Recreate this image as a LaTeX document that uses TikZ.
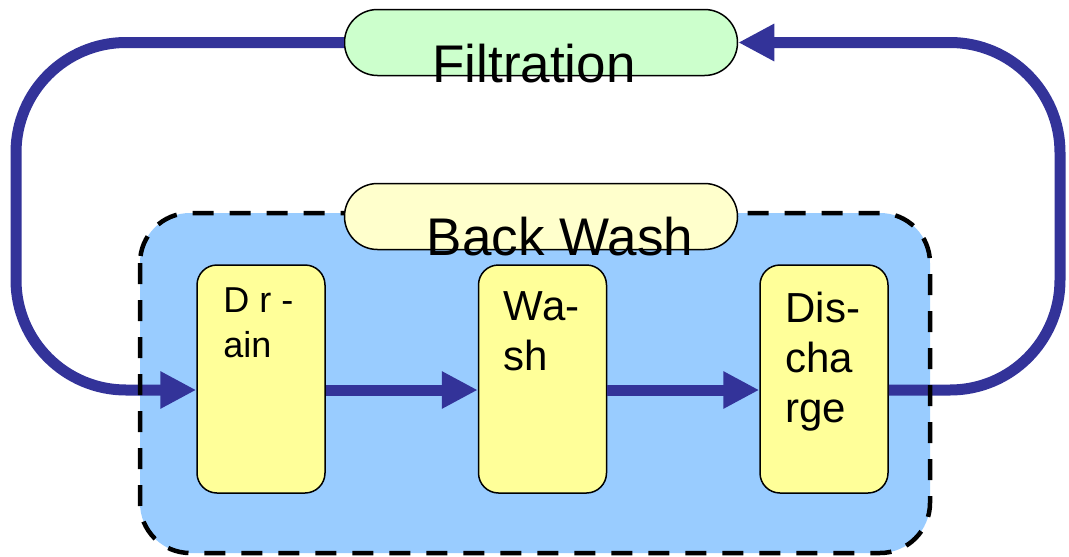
\documentclass[tikz,border=0pt]{standalone}
\usepackage{fontspec}
\setmainfont{Liberation Sans}
\usetikzlibrary{positioning, arrows.meta}
\definecolor{flowblue}{RGB}{51,51,153}
\definecolor{washblue}{RGB}{153,204,255}
\definecolor{stepyellow}{RGB}{255,255,153}
\definecolor{filtgreen}{RGB}{204,255,204}
\definecolor{phaseyellow}{RGB}{255,255,204}
\tikzset{stepbox/.style={draw, line width=1.5pt, fill=stepyellow, rounded corners=20pt, minimum width=128pt, minimum height=228pt, inner sep=0pt}}
\tikzset{steptext/.style={anchor=north west, inner sep=0pt, align=left, font=\fontsize{42}{50}\selectfont}}
\tikzset{phase/.style={draw, line width=1.5pt, rounded corners=33pt, minimum width=393pt, minimum height=66pt, inner sep=0pt}}
\tikzset{phasetext/.style={inner sep=0pt, font=\fontsize{53}{60}\selectfont}}
\tikzset{flow/.style={draw=flowblue, line width=11pt, -{Triangle[length=36pt, width=35pt]}}}

\begin{document}
\begin{tikzpicture}[x=1pt, y=-1pt]
  \useasboundingbox (0,0) rectangle (1069,557);

  % back wash area
  \fill[washblue, rounded corners=50pt] (140,213) rectangle (930,553);

  \node[phase, fill=filtgreen] (filt) at (541,42.5) {};
  \node[phasetext] (filtlbl) at (534,64) {Filtration};

  \node[stepbox] (drain) at (261,379) {};
  \node[stepbox] (wash) [right=152pt of drain] {};
  \node[stepbox] (dis) [right=152pt of wash] {};

  \node[steptext, font=\fontsize{36}{45}\selectfont] (drainlbl) [below right=23pt and 27pt of drain.north west] {D r -\\ain};
  \node[steptext] (washlbl) [below right=27pt and 26pt of wash.north west] {Wa-\\sh};
  \node[steptext] (dislbl) [below right=28pt and 26pt of dis.north west] {Dis-\\cha\\rge};

  % loop
  \draw[flow, rounded corners=110pt] (filt.west) -- (16,42.5) -- (16,390) -- ([yshift=-11pt]drain.west);
  \draw[flow] ([yshift=-11pt]drain.east) -- ([yshift=-11pt]wash.west);
  \draw[flow] ([yshift=-11pt]wash.east) -- ([yshift=-11pt]dis.west);
  \draw[flow, rounded corners=110pt] ([yshift=-11pt]dis.east) -- (1060,390) -- (1060,42.5) -- (filt.east);

  \draw[line width=4.5pt, dash pattern=on 21pt off 16pt, rounded corners=50pt] (140,213) rectangle (930,553);

  \node[phase, fill=phaseyellow] (back) at (541,216.5) {};
  \node[phasetext] (backlbl) at (560,237) {Back Wash};
\end{tikzpicture}
\end{document}
